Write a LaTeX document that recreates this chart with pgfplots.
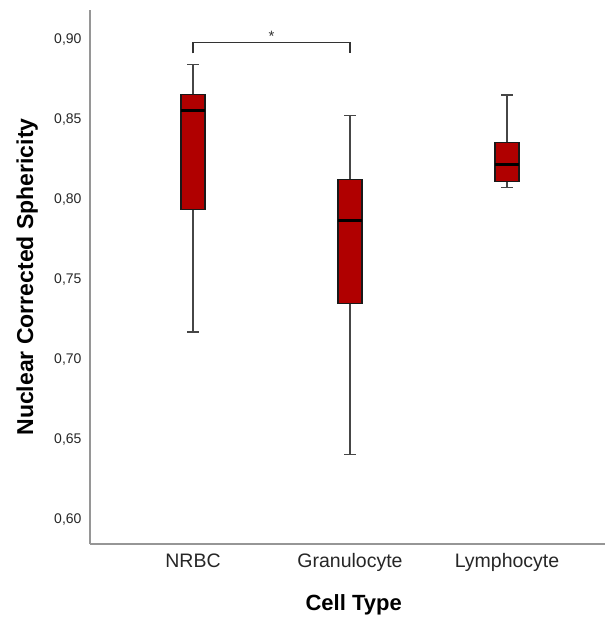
\documentclass[border=0pt]{standalone}
\usepackage{fontspec}
\setmainfont{Liberation Sans}
\usepackage{pgfplots}
\pgfplotsset{compat=1.18}
\usepgfplotslibrary{statistics}
\definecolor{boxred}{RGB}{176,0,0}
\definecolor{axgray}{RGB}{150,150,150}
\definecolor{whisk}{RGB}{70,70,70}
\begin{document}
\begin{tikzpicture}
\useasboundingbox (0,0) rectangle (605bp,619bp);
\begin{axis}[
  at={(90bp,75bp)}, anchor=south west,
  scale only axis, width=515bp, height=534bp,
  xmin=-0.656, xmax=2.624, ymin=0.585, ymax=0.91875,
  axis x line=bottom, axis y line=left,
  axis line style={axgray, line width=1.5bp, -},
  xtick={0,1,2}, xticklabels={NRBC,Granulocyte,Lymphocyte},
  ytick={0.60,0.65,0.70,0.75,0.80,0.85,0.90},
  major tick length=0pt,
  /pgf/number format/assume math mode=true,
  yticklabel style={/pgf/number format/.cd, fixed, fixed zerofill, precision=2, use comma, /tikz/.cd, font=\fontsize{14bp}{16bp}\selectfont, text=black!85, xshift=-5bp},
  xticklabel style={font=\fontsize{19.5bp}{22bp}\selectfont, text=black!85, yshift=-6bp},
  ylabel={\bfseries Nuclear Corrected Sphericity},
  xlabel={\bfseries Cell Type},
  ylabel style={at={(axis description cs:-0.122,0.5)}, anchor=center, font=\fontsize{23bp}{26bp}\selectfont},
  xlabel style={at={(axis description cs:0.512,-0.114)}, anchor=center, font=\fontsize{22bp}{26bp}\selectfont},
  boxplot/draw direction=y,
  boxplot/box extend=0.153,
  boxplot/whisker extend=0.076,
  boxplot/every box/.style={draw=black!90, line width=1.2bp, fill=boxred},
  boxplot/every whisker/.style={draw=whisk, line width=1.2bp},
  boxplot/every median/.style={draw=black, line width=2.8bp},
  clip=false,
]
\addplot[boxplot prepared={draw position=0, lower whisker=0.7175, lower quartile=0.794, median=0.856, upper quartile=0.866, upper whisker=0.8848}] coordinates {};
\addplot[boxplot prepared={draw position=1, lower whisker=0.641, lower quartile=0.7354, median=0.787, upper quartile=0.813, upper whisker=0.8527}] coordinates {};
\addplot[boxplot prepared={draw position=2, lower whisker=0.808, lower quartile=0.8115, median=0.8223, upper quartile=0.836, upper whisker=0.8656}] coordinates {};
\draw[black!80, line width=1.2bp] (axis cs:0,0.8917) -- (axis cs:0,0.8983) -- (axis cs:1,0.8983) -- (axis cs:1,0.8917);
\node[font=\fontsize{15bp}{16bp}\selectfont, text=black!80] at (axis cs:0.5,0.9025) {*};
\end{axis}
\end{tikzpicture}
\end{document}
